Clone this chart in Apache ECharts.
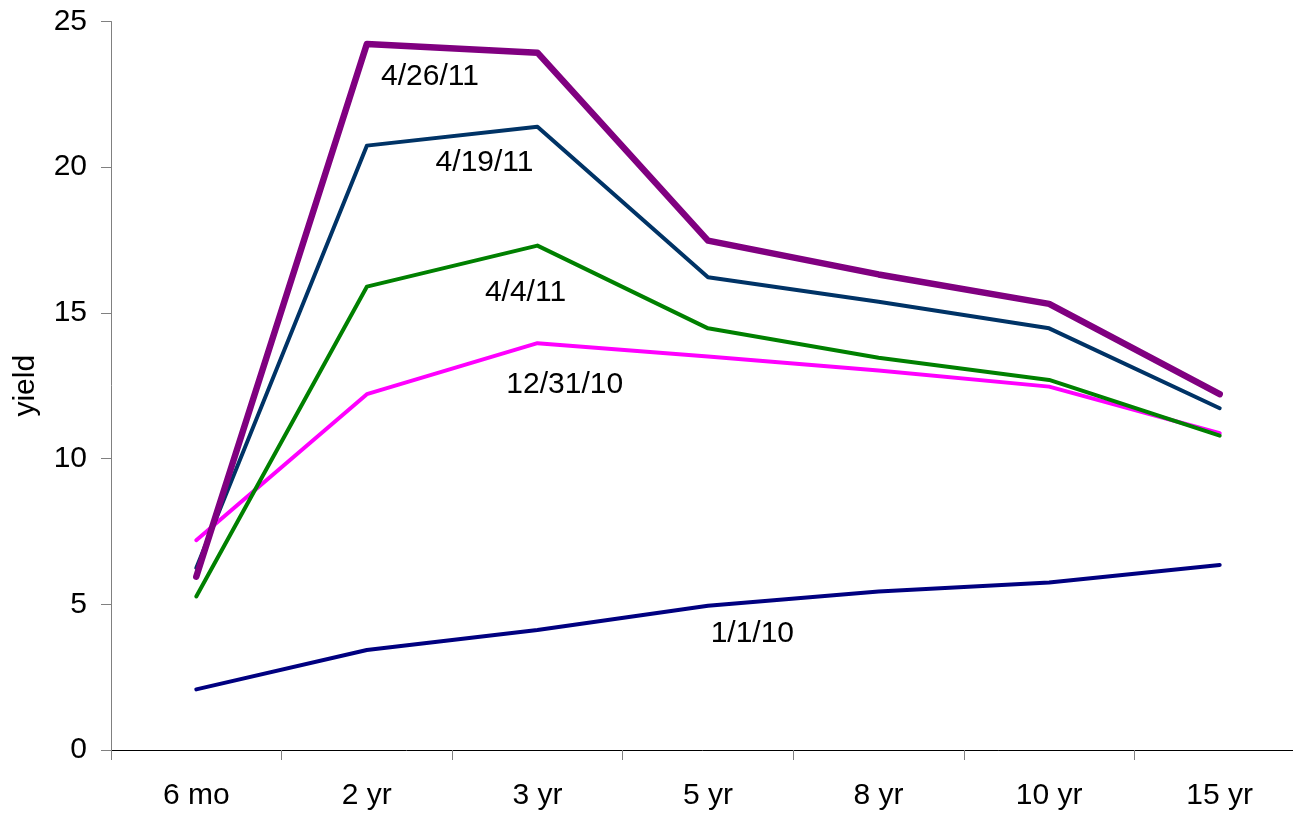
<!DOCTYPE html>
<html>
<head>
<meta charset="utf-8">
<script src="https://cdn.jsdelivr.net/npm/echarts@6.0.0/dist/echarts.min.js"></script>
<style>
  html, body { margin: 0; padding: 0; background: #ffffff; }
  #chart { width: 1293px; height: 817px; }
</style>
</head>
<body>
<div id="chart"></div>
<script>
// Yield curve by maturity, one line per observation date
const maturities = ['6 mo', '2 yr', '3 yr', '5 yr', '8 yr', '10 yr', '15 yr'];
const curve_2010_01_01 = [2.08, 3.43, 4.12, 4.95, 5.44, 5.75, 6.35];
const curve_2010_12_31 = [7.20, 12.21, 13.96, 13.50, 13.02, 12.47, 10.87];
const curve_2011_04_04 = [5.27, 15.90, 17.31, 14.47, 13.46, 12.70, 10.79];
const curve_2011_04_19 = [6.25, 20.74, 21.39, 16.22, 15.38, 14.47, 11.73];
const curve_2011_04_26 = [5.95, 24.23, 23.93, 17.48, 16.32, 15.31, 12.21];
const curveDates = ['1/1/10', '12/31/10', '4/4/11', '4/19/11', '4/26/11'];
const yTickValues = [0, 5, 10, 15, 20, 25];

const curves = [curve_2010_01_01, curve_2010_12_31, curve_2011_04_04, curve_2011_04_19, curve_2011_04_26];
const lineColors = ['#000080', '#FF00FF', '#008000', '#003366', '#800080'];
const lineWidths = [4, 4, 4, 4, 6.5];

// where each date's name sits, in axis units (category index, yield)
const dateLabelAt = [[3.26, 3.98], [2.16, 12.53], [1.93, 15.68], [1.69, 20.14], [1.37, 23.10]];

const FONT = "'Liberation Sans', Arial, Helvetica, sans-serif";

const chart = echarts.init(document.getElementById('chart'), null, { renderer: 'canvas' });

chart.setOption({
  animation: false,
  backgroundColor: '#ffffff',
  grid: {
    left: 111, right: -12, top: 21.5, bottom: 67,
    containLabel: false, outerBoundsMode: 'none'
  },
  xAxis: {
    type: 'category',
    data: maturities,
    boundaryGap: true,
    axisLine: { show: true, lineStyle: { color: '#000000', width: 1 } },
    axisTick: { show: true, length: 10, inside: false, lineStyle: { color: '#808080', width: 1 } },
    axisLabel: { show: true, margin: 31, color: '#000000', fontSize: 30, fontFamily: FONT, interval: 0 },
    splitLine: { show: false }
  },
  yAxis: {
    type: 'value',
    min: yTickValues[0],
    max: yTickValues[yTickValues.length - 1],
    interval: yTickValues[1] - yTickValues[0],
    name: 'yield',
    nameLocation: 'middle',
    nameRotate: 90,
    nameGap: 70,
    nameTextStyle: { color: '#000000', fontSize: 30, fontFamily: FONT },
    axisLine: { show: true, lineStyle: { color: '#808080', width: 1 } },
    axisTick: { show: true, length: 10, inside: false, lineStyle: { color: '#808080', width: 1 } },
    axisLabel: { show: true, margin: 24, color: '#000000', fontSize: 30, fontFamily: FONT },
    splitLine: { show: false }
  },
  series: curves.map((vals, i) => ({
    name: curveDates[i],
    type: 'line',
    data: vals,
    symbol: 'none',
    smooth: false,
    z: 2 + i,
    lineStyle: { color: lineColors[i], width: lineWidths[i], cap: 'round', join: 'round' },
    emphasis: { disabled: true }
  }))
});

// place the date names next to their curves
function catToPx(idx, val) {
  const i0 = Math.max(0, Math.min(maturities.length - 2, Math.floor(idx)));
  const p0 = chart.convertToPixel({ xAxisIndex: 0, yAxisIndex: 0 }, [i0, val]);
  const p1 = chart.convertToPixel({ xAxisIndex: 0, yAxisIndex: 0 }, [i0 + 1, val]);
  const f = idx - i0;
  return [p0[0] + (p1[0] - p0[0]) * f, p0[1]];
}

chart.setOption({
  graphic: curveDates.map((name, i) => {
    const p = catToPx(dateLabelAt[i][0], dateLabelAt[i][1]);
    return {
      type: 'text',
      x: p[0],
      y: p[1],
      z: 100,
      style: {
        text: name,
        fill: '#000000',
        fontSize: 30,
        fontFamily: FONT,
        align: 'center',
        verticalAlign: 'middle'
      }
    };
  })
});
</script>
</body>
</html>
